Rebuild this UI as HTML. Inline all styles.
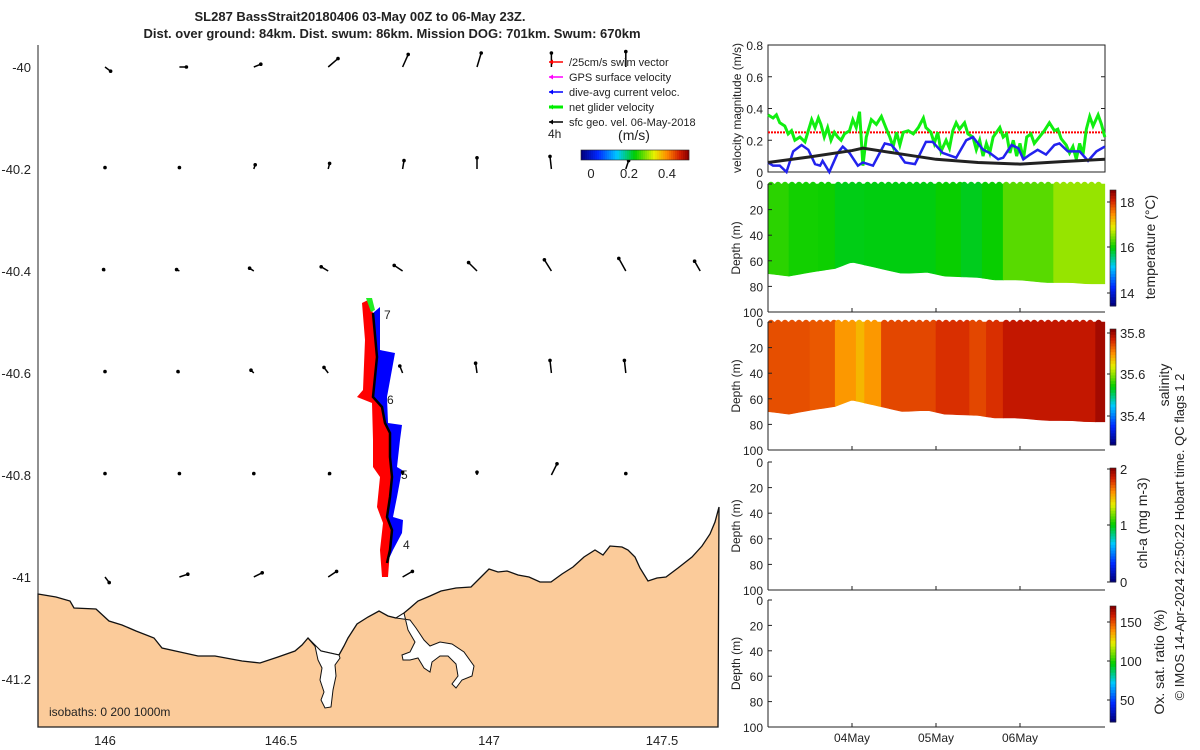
<!DOCTYPE html>
<html><head><meta charset="utf-8"><style>
body{margin:0;background:#fff;}
svg{display:block;font-family:"Liberation Sans","DejaVu Sans",sans-serif;}
text{fill:#222;}
</style></head><body>
<svg id="s" width="1200" height="750" viewBox="0 0 1200 750" xmlns="http://www.w3.org/2000/svg">
<text x="360" y="21" font-size="13" font-weight="bold" text-anchor="middle">SL287 BassStrait20180406 03-May 00Z to 06-May 23Z.</text>
<text x="392" y="38" font-size="13" font-weight="bold" text-anchor="middle">Dist. over ground: 84km. Dist. swum: 86km. Mission DOG: 701km. Swum: 670km</text>
<g id="map"></g>
<g id="right"></g>
</svg>
<script>
// ---------- DATA ----------
const lonTicks=[146,146.5,147,147.5];
const latTicks=[-40,-40.2,-40.4,-40.6,-40.8,-41,-41.2];
const arrowLons=[146,146.2,146.4,146.6,146.8,147,147.2,147.4,147.6];
const arrowLats=[-40,-40.2,-40.4,-40.6,-40.8,-41];
const arrowU=[
 [0.04,0.05,0.05,0.07,0.04,0.03,0,0,0],
 [0,0,0.01,0.01,0.01,0,-0.01,0.02,0],
 [-0.01,-0.02,-0.03,-0.05,-0.06,-0.06,-0.05,-0.05,-0.04],
 [0,-0.01,-0.02,-0.03,-0.02,-0.01,-0.01,-0.01,0],
 [0,0,0,0.01,0,0,0.04,0,0],
 [0.03,0.06,0.06,0.06,0.07,0,0,0,0]];
const arrowV=[
 [-0.03,0,0.02,0.06,0.09,0.1,0.1,0.11,0],
 [0.01,0.01,0.03,0.04,0.06,0.08,0.09,0.06,0],
 [0.01,0.01,0.02,0.03,0.04,0.06,0.08,0.09,0.07],
 [0.01,0.01,0.02,0.04,0.05,0.07,0.09,0.09,0],
 [0.01,0.01,0.01,0.01,0.02,0.02,0.08,0.01,0],
 [-0.04,0.02,0.03,0.04,0.04,0,0,0,0]];
const dayTicks=[1,2,3];
const dayLabels=["04May","05May","06May"];
const velTicks=[0,0.2,0.4,0.6,0.8];
const depthTicks=[0,20,40,60,80,100];
const greenT=[0,.06,.10,.14,.20,.24,.28,.32,.38,.44,.48,.52,.56,.60,.63,.67,.71,.75,.79,.83,.87,.91,.97,1.01,1.05,1.09,1.13,1.17,1.23,1.29,1.35,1.41,1.45,1.49,1.53,1.57,1.61,1.67,1.73,1.79,1.85,1.88,1.94,1.98,2.02,2.06,2.12,2.16,2.20,2.24,2.28,2.34,2.38,2.44,2.48,2.52,2.56,2.60,2.64,2.68,2.72,2.76,2.80,2.84,2.88,2.92,2.96,3.00,3.04,3.08,3.13,3.17,3.23,3.29,3.35,3.41,3.45,3.49,3.55,3.59,3.63,3.67,3.71,3.75,3.79,3.83,3.87,3.93,3.97,4.01];
const greenV=[.36,.34,.36,.31,.29,.24,.26,.2,.22,.19,.26,.33,.28,.34,.3,.22,.28,.2,.25,.22,.2,.24,.26,.33,.28,.38,.04,.22,.33,.3,.35,.27,.22,.16,.25,.17,.25,.26,.24,.28,.34,.28,.25,.18,.25,.13,.2,.15,.26,.31,.27,.31,.24,.22,.14,.2,.1,.18,.12,.22,.25,.28,.22,.24,.12,.2,.1,.18,.08,.22,.24,.18,.22,.26,.31,.26,.27,.21,.17,.12,.16,.08,.18,.11,.27,.35,.29,.36,.3,.22];
const blueT=[0,.06,.14,.22,.30,.40,.48,.56,.62,.65,.73,.83,.89,.97,1.07,1.13,1.19,1.25,1.31,1.39,1.47,1.55,1.63,1.75,1.88,1.96,2.08,2.24,2.36,2.44,2.56,2.64,2.74,2.80,2.90,2.98,3.04,3.12,3.21,3.31,3.41,3.47,3.57,3.71,3.81,3.91,4.01];
const blueV=[.06,.04,.04,0,.13,.17,.14,.05,.04,.07,0,.12,.16,.12,.04,.06,.05,.04,.1,.18,.17,.12,.06,.05,.19,.19,.12,.09,.2,.22,.14,.12,.08,.09,.17,.15,.08,.11,.14,.11,.17,.18,.13,.13,.07,.13,.16];
const geoT=[0,.5,1,1.13,1.5,2,2.5,3,3.5,4.01];
const geoV=[.06,.095,.135,.15,.12,.08,.06,.05,.065,.08];
const swimV=0.25;
const stripStart=[0,.25,.6,.8,1.15,2.0,2.3,2.55,2.8,3.4];
const stripEnd=[.25,.6,.8,1.15,2.0,2.3,2.55,2.8,3.4,4.01];
const tempVals=[16.12,16.02,16.0,15.88,15.9,15.98,15.85,15.98,16.3,16.55];
const salStart=[0,.5,.8,1.05,1.15,1.35,2.0,2.4,2.6,2.8,3.9];
const salEnd=[.5,.8,1.05,1.15,1.35,2.0,2.4,2.6,2.8,3.9,4.01];
const salVals=[35.745,35.74,35.70,35.68,35.70,35.75,35.765,35.75,35.765,35.785,35.805];
const bottomT=[0,.25,.5,.8,1.0,1.2,1.4,1.6,1.9,2.1,2.5,2.7,3.0,3.3,3.6,3.8,4.01];
const bottomD=[70,72,69,66,61,64,67,70,69,72,73,75,75,77,77,78,78];
// ---------- HELPERS ----------
const S=document.getElementById('s');
const NS='http://www.w3.org/2000/svg';
function mk(tag,attrs,parent,txt){const e=document.createElementNS(NS,tag);for(const k in attrs)e.setAttribute(k,attrs[k]);if(txt!==undefined)e.textContent=txt;(parent||S).appendChild(e);return e;}
const stops=[[0,[0,0,130]],[0.15,[0,40,255]],[0.33,[0,200,255]],[0.5,[0,205,0]],[0.68,[230,240,0]],[0.8,[255,140,0]],[0.92,[210,30,0]],[1,[140,0,0]]];
function cmap(f){f=Math.max(0,Math.min(1,f));for(let i=1;i<stops.length;i++){if(f<=stops[i][0]){const a=stops[i-1],b=stops[i],r=(f-a[0])/(b[0]-a[0]);const c=a[1].map((v,j)=>Math.round(v+(b[1][j]-v)*r));return `rgb(${c})`;}}return 'rgb(140,0,0)';}
// ---------- MAP ----------
const M=document.getElementById('map');
const mx=lon=>105+(lon-146)*372;
const my=lat=>67+(-40-lat)*510;
mk('rect',{x:38,y:45,width:680,height:682,fill:'#fff'},M);
const coast=[[38,594],[56,597],[70,601],[74,608],[96,609],[109,621],[122,625],[136,631],[154,638],[162,648],[180,652],[198,656],[215,656],[242,661],[260,663],[278,657],[295,651],[302,645],[308,638],[315,646],[321,651],[339,655],[344,646],[348,638],[357,624],[368,617],[379,611],[388,616],[396,618],[404,613],[410,608],[418,601],[430,596],[441,591],[456,588],[471,587],[480,578],[489,569],[498,572],[507,571],[518,575],[529,577],[540,582],[551,582],[562,574],[573,567],[584,557],[595,550],[603,555],[610,546],[622,547],[628,550],[635,557],[640,568],[648,581],[657,578],[666,577],[678,568],[692,557],[702,546],[710,534],[715,522],[719,507]];
const land=mk('polygon',{points:coast.map(p=>p.join(',')).join(' ')+' 718,727 38,727',fill:'#fbcb9a',stroke:'#111','stroke-width':1.3},M);

mk('polygon',{points:'308,638 315,646 318,660 322,668 320,680 324,692 321,700 325,708 331,707 333,690 336,676 335,665 340,658 339,655 321,651',fill:'#fff',stroke:'#111','stroke-width':1},M);
mk('polygon',{points:'396,618 404,613 408,630 415,642 410,652 402,655 403,660 410,660 418,658 424,668 430,672 432,662 440,656 448,656 456,664 458,676 452,684 456,688 462,680 472,676 474,666 464,652 452,644 440,642 430,646 424,640 416,628 410,620',fill:'#fff',stroke:'#111','stroke-width':1},M);
// glider track
mk('polygon',{points:'362,303 365,340 363,390 357,397 372,403 373,440 373,467 380,477 377,507 383,523 380,550 382,577 388,577 390,550 392,530 387,517 390,497 392,477 390,457 390,433 385,423 382,407 373,397 377,357 373,313 368,300',fill:'#f00'},M);
mk('polygon',{points:'373,313 377,357 373,397 382,407 385,423 390,433 390,457 392,477 390,497 387,517 392,530 390,550 387,563 393,550 402,533 403,520 393,517 397,497 402,470 397,467 400,440 402,425 388,423 387,397 395,353 380,350 380,307',fill:'#00f'},M);
const trk=mk('polyline',{points:'373,313 377,357 373,397 382,407 385,423 390,433 390,457 392,477 390,497 387,517 392,530 390,550 387,563',fill:'none',stroke:'#000','stroke-width':2.5},M);

mk('polygon',{points:'366,298 372,298 375,310 371,312',fill:'#2e2'},M);
[['7',384,319],['6',387,404],['5',401,479],['4',403,549]].forEach(d=>mk('text',{x:d[1],y:d[2],'font-size':12},M,d[0]));
// arrows
arrowLats.forEach((la,i)=>arrowLons.forEach((lo,j)=>{const u=arrowU[i][j],v=arrowV[i][j];if(u===0&&v===0)return;
 const x0=mx(lo),y0=my(la),x1=x0+u*140,y1=y0-v*140;
 const a=mk('line',{x1:x0,y1:y0,x2:x1,y2:y1,stroke:'#000','stroke-width':1.5},M);
 
 mk('circle',{cx:x1,cy:y1,r:1.8,fill:'#000'},M);}));
// axes
mk('line',{x1:38,y1:45,x2:38,y2:727,stroke:'#222'},M);
mk('line',{x1:38,y1:727,x2:718,y2:727,stroke:'#222'},M);
const lonLab=[105,281,489,662];
lonTicks.forEach((t,i)=>mk('text',{x:lonLab[i],y:745,'font-size':13,'text-anchor':'middle'},M,String(t)));
latTicks.forEach(t=>mk('text',{x:31,y:my(t)+5,'font-size':13,'text-anchor':'end'},M,String(t)));
mk('text',{x:49,y:716,'font-size':12},M,'isobaths: 0   200  1000m');
// legend
const leg=[['#f00','/25cm/s swim vector'],['#f0f','GPS surface velocity'],['#00f','dive-avg current veloc.'],['#0e0','net glider velocity'],['#000','sfc geo. vel. 06-May-2018']];
leg.forEach((l,i)=>{const y=62+i*15;const g=mk('g',{},M);
 mk('line',{x1:549,y1:y,x2:563,y2:y,stroke:l[0],'stroke-width':i==3?3:1.5},g);mk('path',{d:`M549,${y} l4,-2.5 v5 z`,fill:l[0]},g);
 mk('text',{x:569,y:y+4,'font-size':11},g,l[1]);});
mk('text',{x:548,y:138,'font-size':12},M,'4h');
mk('text',{x:634,y:140,'font-size':14,'text-anchor':'middle'},M,'(m/s)');
for(let k=0;k<54;k++)mk('rect',{x:581+k*2,y:150,width:2.2,height:10,fill:cmap(k/53)},M);
mk('rect',{x:581,y:150,width:108,height:10,fill:'none',stroke:'#222','stroke-width':0.6},M);
[[0,591],[0.2,629],[0.4,667]].forEach(d=>mk('text',{x:d[1],y:178,'font-size':13,'text-anchor':'middle'},M,String(d[0])));
// ---------- RIGHT PANELS ----------
const R=document.getElementById('right');
const L=768,RR=1105;
const tx=t=>L+t*84;
function depthAxes(top,bot){const dy=d=>top+d/100*(bot-top);
 mk('line',{x1:L,y1:top,x2:L,y2:bot,stroke:'#222'},R);mk('line',{x1:L,y1:bot,x2:RR,y2:bot,stroke:'#222'},R);
 depthTicks.forEach(d=>{mk('text',{x:763,y:dy(d)+5,'font-size':12,'text-anchor':'end'},R,String(d));mk('line',{x1:L,y1:dy(d),x2:L+4,y2:dy(d),stroke:'#222'},R);});
 mk('text',{transform:`translate(740,${(top+bot)/2}) rotate(-90)`,'font-size':12,'text-anchor':'middle'},R,'Depth (m)');
 dayTicks.forEach(t=>mk('line',{x1:tx(t),y1:bot,x2:tx(t),y2:bot-4,stroke:'#222'},R));
 return dy;}
// velocity panel
const vy=v=>172-v*158.75;
mk('rect',{x:L,y:45,width:RR-L,height:127,fill:'none',stroke:'#222'},R);
velTicks.forEach(v=>{mk('text',{x:763,y:vy(v)+5,'font-size':12,'text-anchor':'end'},R,String(v));mk('line',{x1:L,y1:vy(v),x2:L+4,y2:vy(v),stroke:'#222'},R);mk('line',{x1:RR,y1:vy(v),x2:RR-4,y2:vy(v),stroke:'#222'},R);});
mk('text',{transform:'translate(741,108) rotate(-90)','font-size':12,'text-anchor':'middle'},R,'velocity magnitude (m/s)');
const sw=mk('line',{x1:L,y1:vy(swimV),x2:RR,y2:vy(swimV),stroke:'#f00','stroke-width':2,'stroke-dasharray':'2,1'},R);

const gl=mk('polyline',{points:greenT.map((t,i)=>tx(t)+','+vy(greenV[i])).join(' '),fill:'none',stroke:'#1e1','stroke-width':3},R);

const bl=mk('polyline',{points:blueT.map((t,i)=>tx(t)+','+vy(blueV[i])).join(' '),fill:'none',stroke:'#22e','stroke-width':2.5},R);

const kl=mk('polyline',{points:geoT.map((t,i)=>tx(t)+','+vy(geoV[i])).join(' '),fill:'none',stroke:'#222','stroke-width':3},R);

// section panels
function section(top,bot,st,en,vals,lo,hi,name){
 const dy=d=>top+d/100*(bot-top);
 const bottomAt=t=>{for(let i=1;i<bottomT.length;i++)if(t<=bottomT[i]){const r=(t-bottomT[i-1])/(bottomT[i]-bottomT[i-1]);return bottomD[i-1]+r*(bottomD[i]-bottomD[i-1]);}return bottomD[bottomD.length-1];};
 st.forEach((s,i)=>{const pts=[];const n=8;for(let k=0;k<=n;k++){const t=s+(en[i]-s)*k/n;pts.push(tx(t)+','+dy(bottomAt(t)));}
  const c=cmap((vals[i]-lo)/(hi-lo));
  const p=mk('polygon',{points:`${tx(s)},${dy(0)} ${tx(en[i])},${dy(0)} `+pts.reverse().join(' '),fill:c,stroke:c,'stroke-width':0.6},R);
  
  for(let x=tx(s)+3;x<tx(en[i]);x+=7)mk('circle',{cx:x,cy:dy(0)+1,r:3.2,fill:c},R);});
}
section(184,312,stripStart,stripEnd,tempVals,13.4,18.5,'temperature');
section(322,450,salStart,salEnd,salVals,35.26,35.82,'salinity');
depthAxes(184,312);depthAxes(322,450);depthAxes(462,590);depthAxes(600,727);
dayTicks.forEach((t,i)=>mk('text',{x:tx(t),y:742,'font-size':12,'text-anchor':'middle'},R,dayLabels[i]));
// colorbars
function cbar(top,bot,ticks,tickY,label,lx){for(let k=0;k<40;k++)mk('rect',{x:1110,y:top+(bot-top)*k/40,width:6,height:(bot-top)/40+0.5,fill:cmap(1-k/39)},R);
 mk('rect',{x:1110,y:top,width:6,height:bot-top,fill:'none',stroke:'#222','stroke-width':0.6},R);
 ticks.forEach((t,i)=>{mk('text',{x:1120,y:tickY[i]+5,'font-size':13},R,String(t));mk('line',{x1:1107,y1:tickY[i],x2:1110,y2:tickY[i],stroke:'#222'},R);});
 mk('text',{transform:`translate(${lx},${label[1]}) rotate(-90)`,'font-size':14,'text-anchor':'middle'},R,label[0]);}
cbar(190,306,[18,16,14],[202,247,293],['temperature (°C)',247],1155);
cbar(329,445,[35.8,35.6,35.4],[333,374,416],['salinity',385],1169);
cbar(468,582,[2,1,0],[469,525,582],['chl-a (mg m-3)',523],1147);
cbar(606,722,[150,100,50],[622,661,700],['Ox. sat. ratio (%)',662],1164);
mk('text',{transform:'translate(1184,537) rotate(-90)','font-size':13,'text-anchor':'middle'},R,'© IMOS 14-Apr-2024 22:50:22 Hobart time. QC flags 1  2');
</script>
</body></html>
